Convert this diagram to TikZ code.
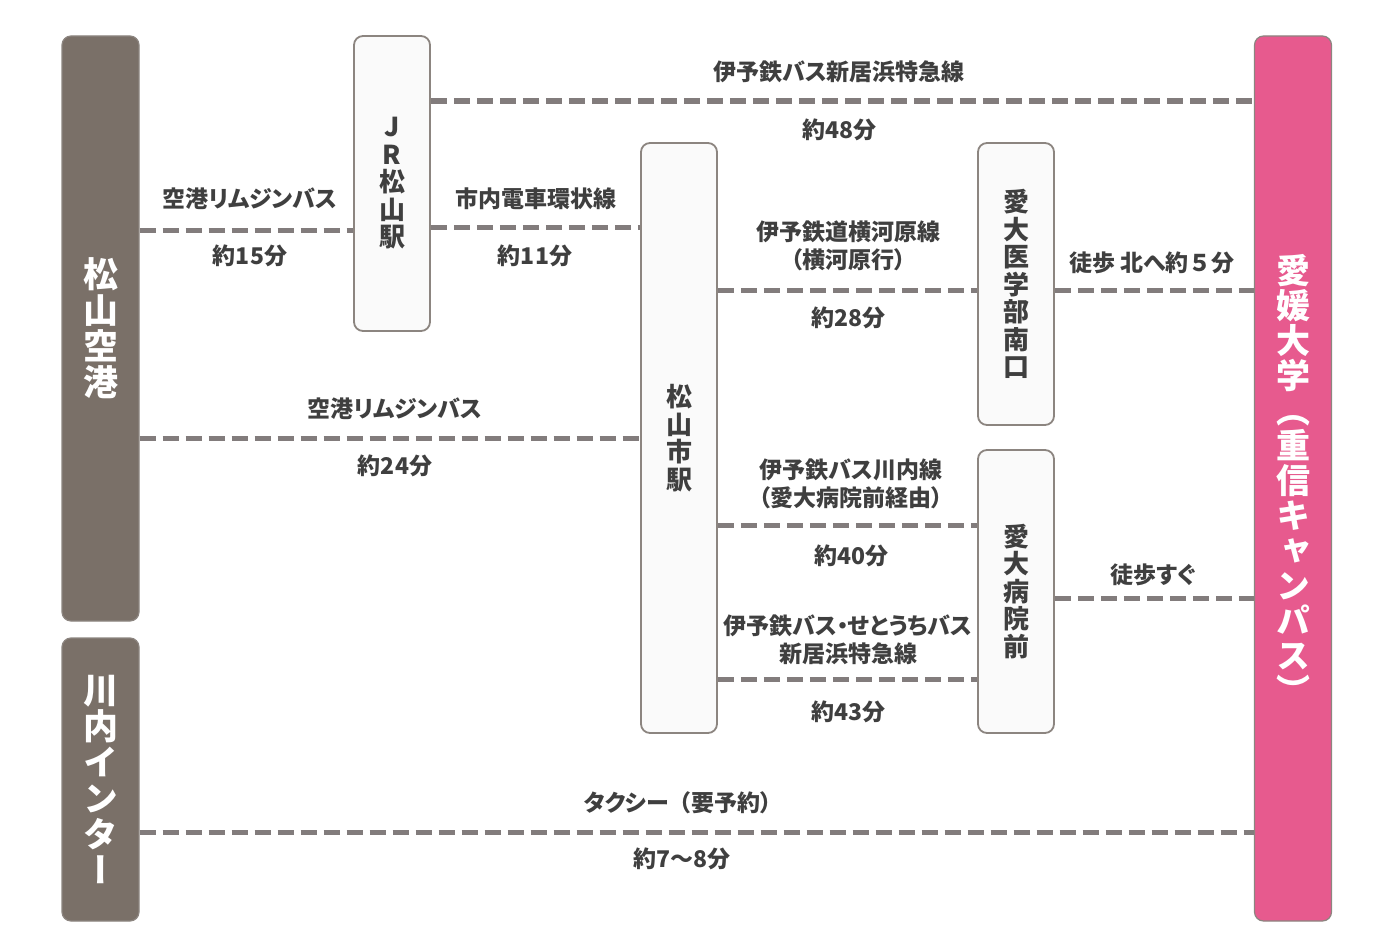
\documentclass[tikz,border=0pt]{standalone}
\usepackage{fontspec}
\setmainfont{Noto Sans CJK JP}
\newfontfamily\labfont{Noto Sans CJK JP}[RawFeature=+palt]
\newfontfamily\plainfont{Noto Sans CJK JP}
\newfontfamily\vfont{Noto Sans CJK JP}[RawFeature=+vert]
\definecolor{txt}{HTML}{3F3F3F}
\definecolor{dashc}{HTML}{827C7C}
\definecolor{brd}{HTML}{8C8580}
\definecolor{darkbox}{HTML}{7A7068}
\definecolor{pinkbox}{HTML}{E75A8E}
\definecolor{lightbox}{HTML}{FAFAFA}
\tikzset{
  route/.style={draw=dashc, line width=5pt, dash pattern=on 16pt off 7pt},
  lab/.style={font=\labfont\bfseries\fontsize{23}{28}\selectfont, text=txt, align=center, inner sep=0pt},
  sbox/.style={draw=brd, line width=1.8pt, rounded corners=9pt, fill=lightbox, minimum width=76pt,
     align=center, inner sep=0pt, text=txt, font=\vfont\bfseries\fontsize{26}{27.5}\selectfont},
  bbox/.style={draw=brd, line width=1.2pt, rounded corners=9pt, minimum width=77pt,
     align=center, inner sep=0pt, text=white, font=\vfont\bfseries\fontsize{35}{36}\selectfont},
}
\begin{document}
\begin{tikzpicture}[x=1pt,y=-1pt]
\useasboundingbox (0,0) rectangle (1385,950);
% boxes
\node[bbox, fill=darkbox, minimum height=585pt] (apt) at (100.5,328.5) {松\\山\\空\\港};
\node[bbox, fill=darkbox, minimum height=283pt] (kawa) at (100.5,779.5) {川\\内\\イ\\ン\\タ\\ー};
\node[bbox, fill=pinkbox, minimum height=885pt, font=\vfont\bfseries\fontsize{34}{35}\selectfont] (univ) at (1293,478.5) {愛\\媛\\大\\学\\（\\重\\信\\キ\\ャ\\ン\\パ\\ス\\）};
\node[sbox, minimum height=295pt] (jr) at (392,183.5) {J\\R\\松\\山\\駅};
\node[sbox, minimum height=590pt] (city) at (679,438) {松\\山\\市\\駅};
\node[sbox, minimum height=282pt] (med) at (1016,284) {愛\\大\\医\\学\\部\\南\\口};
\node[sbox, minimum height=283pt] (hosp) at (1016,591.5) {愛\\大\\病\\院\\前};
% routes
\draw[route] (apt.east |- 0,230) -- (jr.west |- 0,230);
\draw[route] (jr.east |- 0,227) -- (city.west |- 0,227);
\draw[route] (jr.east |- 0,101) -- (univ.west |- 0,101);
\draw[route] (apt.east |- 0,438) -- (city.west |- 0,438);
\draw[route] (city.east |- 0,290) -- (med.west |- 0,290);
\draw[route] (med.east |- 0,290) -- (univ.west |- 0,290);
\draw[route] (city.east |- 0,525) -- (hosp.west |- 0,525);
\draw[route] (city.east |- 0,679) -- (hosp.west |- 0,679);
\draw[route] (hosp.east |- 0,598) -- (univ.west |- 0,598);
\draw[route] (kawa.east |- 0,832) -- (univ.west |- 0,832);
% labels
\node[lab] (l1a) at (250,199) {空港リムジンバス};
\node[lab] (l1b) at (250,256) {約15分};
\node[lab] (l2a) at (536,199) {市内電車環状線};
\node[lab] (l2b) at (535,256) {約11分};
\node[lab] (l3a) at (839,72) {伊予鉄バス新居浜特急線};
\node[lab] (l3b) at (839,130) {約48分};
\node[lab] (l4a) at (395,409) {空港リムジンバス};
\node[lab] (l4b) at (395,466) {約24分};
\node[lab] (l5a) at (848,246) {伊予鉄道横河原線\\（横河原行）};
\node[lab] (l5b) at (848,318) {約28分};
\node[lab] (l6a) at (1152,263) {徒歩 北へ約{\plainfont\bfseries ５}分};
\node[lab] (l7a) at (851,484) {伊予鉄バス川内線\\（愛大病院前経由）};
\node[lab] (l7b) at (851,556) {約40分};
\node[lab] (l8a) at (848,640) {伊予鉄バス・せとうちバス\\新居浜特急線};
\node[lab] (l8b) at (848,712) {約43分};
\node[lab] (l9a) at (1153,575) {徒歩すぐ};
\node[lab] (l10a) at (678,803) {タクシー{\plainfont\bfseries （}要予約）};
\node[lab] (l10b) at (682,859) {約7～8分};
\end{tikzpicture}
\end{document}
